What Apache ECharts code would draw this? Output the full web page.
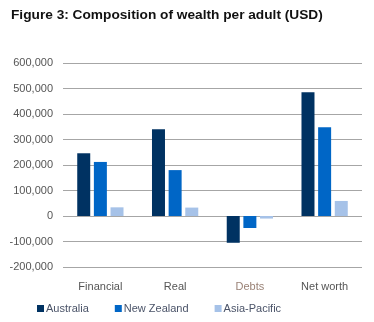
<!DOCTYPE html>
<html><head><meta charset="utf-8">
<script src="https://cdn.jsdelivr.net/npm/echarts@6/dist/echarts.min.js"></script>
<style>html,body{margin:0;padding:0;background:#fff}#c{width:374px;height:322px}</style>
</head><body><div id="c"></div>
<script>
const categories = ['Financial', 'Real', 'Debts', 'Net worth'];
const australia = [246000, 340000, -105000, 485000];
const newZealand = [212000, 180000, -47000, 348000];
const asiaPacific = [34000, 33000, -10000, 59000];
const seriesNames = ['Australia', 'New Zealand', 'Asia-Pacific'];
const colors = ['#003262', '#0066c6', '#a6c2e8'];

const chart = echarts.init(document.getElementById('c'));
const font = '"Liberation Sans", Arial, sans-serif';
chart.setOption({
  animation: false,
  title: {
    text: 'Figure 3: Composition of wealth per adult (USD)',
    left: 6, top: 3,
    textStyle: { fontFamily: font, fontWeight: 'bold', fontSize: 13.7, color: '#111' }
  },
  legend: {
    data: seriesNames,
    left: 32, top: 298,
    itemWidth: 7, itemHeight: 7, itemGap: 26,
    icon: 'rect',
    textStyle: { fontFamily: font, fontSize: 11, color: '#4a5368', padding: [0, 0, 0, -3] }
  },
  grid: { left: 63, right: 12, top: 63, bottom: 55 },
  xAxis: {
    type: 'category', data: categories,
    axisLine: { show: false }, axisTick: { show: false },
    axisLabel: {
      fontFamily: font, fontSize: 11, margin: 14,
      color: function (v) { return v === 'Debts' ? '#9a8276' : '#555'; }
    }
  },
  yAxis: {
    type: 'value', min: -200000, max: 600000, interval: 100000,
    axisLine: { show: false }, axisTick: { show: false },
    splitLine: { lineStyle: { color: '#a6a6a6', width: 1 } },
    axisLabel: {
      fontFamily: font, fontSize: 11, color: '#555', margin: 10,
      formatter: function (v) { return v.toLocaleString('en-US'); }
    }
  },
  series: [
    { name: seriesNames[0], type: 'bar', data: australia, barWidth: 13, barGap: '28%', itemStyle: { color: colors[0] } },
    { name: seriesNames[1], type: 'bar', data: newZealand, barWidth: 13, barGap: '28%', itemStyle: { color: colors[1] } },
    { name: seriesNames[2], type: 'bar', data: asiaPacific, barWidth: 13, barGap: '28%', itemStyle: { color: colors[2] } }
  ]
});
</script></body></html>
